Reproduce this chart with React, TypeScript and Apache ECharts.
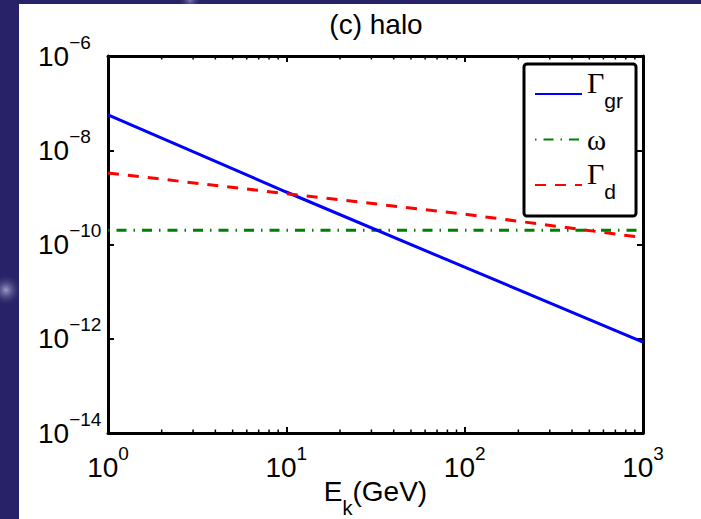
import React, { useEffect, useRef } from "react";
import * as echarts from "echarts";

// ---- data ----
const energy: number[] = [1, 10, 100, 1000];
const gammaGr: number[] = [5.6e-8, 1.3e-9, 3.3e-11, 8.5e-13];
const omega: number[] = [2.0e-10, 2.0e-10, 2.0e-10, 2.0e-10];
const gammaD: number[] = [3.3e-9, 1.2e-9, 4.4e-10, 1.4e-10];

const X_MIN = 1;
const X_MAX = 1000;
const Y_MIN = 1e-14;
const Y_MAX = 1e-6;
const minorXTicks: number[] = [2, 3, 4, 5, 6, 7, 8, 9, 20, 30, 40, 50, 60, 70, 80, 90, 200, 300, 400, 500, 600, 700, 800, 900];

const seriesNames = ["Γgr", "ω", "Γd"];
const legendLabels: Record<string, string> = {
  "Γgr": "{g|Γ}{s|gr}",
  "ω": "{w|ω}",
  "Γd": "{g|Γ}{s|d}",
};

const FONT = "Liberation Sans, Arial, Helvetica, sans-serif";
const SERIF = "Liberation Serif, Times New Roman, serif";

function pow10Label(v: number): string {
  const e = Math.round(Math.log10(v));
  const es = e < 0 ? "\u2212" + String(-e) : String(e);
  return "{b|10}{e|" + es + "}";
}

const labelRich = {
  b: { fontSize: 28, fontFamily: FONT, color: "#000", lineHeight: 30 },
  e: { fontSize: 19, fontFamily: FONT, color: "#000", lineHeight: 30, padding: [0, 0, 28, 0] },
};

export default function App() {
  const ref = useRef<HTMLDivElement>(null);
  useEffect(() => {
    if (!ref.current) return;
    const chart = echarts.init(ref.current, undefined, { renderer: "svg" });
    const toPairs = (ys: number[]) => energy.map((x, i) => [x, ys[i]]);
    const axisLine = { show: true, onZero: false, lineStyle: { color: "#000", width: 3 } };
    const option: any = {
      animation: false,
      backgroundColor: "#282368",
      textStyle: { fontFamily: FONT },
      graphic: {
        elements: [
          {
            type: "circle",
            shape: { cx: 6, cy: 290, r: 16 },
            style: {
              fill: new echarts.graphic.RadialGradient(0.5, 0.5, 0.5, [
                { offset: 0, color: "rgba(200,195,235,0.75)" },
                { offset: 1, color: "rgba(40,35,104,0)" },
              ]),
            },
            z: -20,
            silent: true,
          },
          {
            type: "circle",
            shape: { cx: 190, cy: 0, r: 12 },
            style: {
              fill: new echarts.graphic.RadialGradient(0.5, 0.5, 0.5, [
                { offset: 0, color: "rgba(180,175,225,0.6)" },
                { offset: 1, color: "rgba(40,35,104,0)" },
              ]),
            },
            z: -20,
            silent: true,
          },
          {
            type: "rect",
            shape: { x: 19, y: 4, width: 682, height: 515 },
            style: { fill: "#ffffff" },
            z: -10,
            silent: true,
          },
        ],
      },
      title: {
        text: "(c) halo",
        left: 376,
        top: 10,
        padding: 0,
        textAlign: "center",
        textStyle: { fontFamily: FONT, fontSize: 28, fontWeight: "normal", color: "#000" },
      },
      grid: { left: 108, top: 56, width: 535, height: 377, containLabel: false, outerBoundsMode: "none" },
      legend: {
        orient: "vertical",
        left: 524,
        top: 64,
        padding: [3, 13, 4, 10],
        itemWidth: 47,
        itemHeight: 14,
        itemGap: 4,
        borderColor: "#000",
        borderWidth: 3,
        borderRadius: 3,
        backgroundColor: "#fff",
        itemStyle: { opacity: 0 },
        data: seriesNames,
        formatter: (name: string) => legendLabels[name] || name,
        textStyle: {
          rich: {
            g: { fontFamily: SERIF, fontSize: 30, color: "#000", lineHeight: 30, padding: [0, 0, 24, 0] },
            s: { fontFamily: FONT, fontSize: 21, color: "#000", lineHeight: 30, padding: [12, 0, 0, 0] },
            w: { fontFamily: SERIF, fontSize: 29, color: "#000", lineHeight: 30, padding: [0, 0, 0, 0] },
          },
        },
      },
      xAxis: [
        {
          type: "log",
          logBase: 10,
          min: X_MIN,
          max: X_MAX,
          position: "bottom",
          axisLine,
          axisTick: { show: true, inside: true, length: 6, lineStyle: { color: "#000", width: 2 } },
          splitLine: { show: false },
          axisLabel: { margin: 19, formatter: pow10Label, rich: labelRich },
          name: "{b|E}{s|k}{b|(GeV)}",
          nameLocation: "middle",
          nameGap: 43,
          nameMoveOverlap: false,
          nameTextStyle: {
            rich: {
              b: { fontSize: 28, fontFamily: FONT, color: "#000", lineHeight: 30 },
              s: { fontSize: 20, fontFamily: FONT, color: "#000", lineHeight: 30, padding: [34, 0, 0, 0] },
            },
          },
        },
        {
          type: "log",
          logBase: 10,
          min: X_MIN,
          max: X_MAX,
          position: "top",
          axisLine,
          axisTick: { show: true, inside: true, length: 6, lineStyle: { color: "#000", width: 2 } },
          splitLine: { show: false },
          axisLabel: { show: false },
        },
      ],
      yAxis: [
        {
          type: "log",
          logBase: 10,
          min: Y_MIN,
          max: Y_MAX,
          interval: 2,
          position: "left",
          axisLine,
          axisTick: { show: true, inside: true, length: 6, lineStyle: { color: "#000", width: 2 } },
          splitLine: { show: false },
          axisLabel: { margin: 70, align: "left", formatter: pow10Label, rich: labelRich },
        },
        {
          type: "log",
          logBase: 10,
          min: Y_MIN,
          max: Y_MAX,
          interval: 2,
          position: "right",
          axisLine,
          axisTick: { show: true, inside: true, length: 6, lineStyle: { color: "#000", width: 2 } },
          splitLine: { show: false },
          axisLabel: { show: false },
        },
      ],
      series: [
        {
          name: "Γgr",
          type: "line",
          data: toPairs(gammaGr),
          symbol: "none",
          lineStyle: { color: "#0000ff", width: 3, type: "solid" },
          itemStyle: { color: "#0000ff" },
          z: 4,
        },
        {
          name: "ω",
          type: "line",
          data: toPairs(omega),
          symbol: "none",
          lineStyle: { color: "#008000", width: 3, type: [10, 7, 1.5, 7], dashOffset: 17 },
          itemStyle: { color: "#008000" },
          z: 3,
        },
        {
          name: "Γd",
          type: "line",
          data: toPairs(gammaD),
          symbol: "none",
          lineStyle: { color: "#ff0000", width: 3, type: [11, 9] },
          itemStyle: { color: "#ff0000" },
          z: 5,
        },
        {
          name: "minorTicks",
          type: "custom",
          silent: true,
          clip: false,
          data: minorXTicks.map((x) => [x, Y_MIN]),
          renderItem: (_p: any, api: any) => {
            const x = api.value(0);
            const b = api.coord([x, Y_MIN]);
            const t = api.coord([x, Y_MAX]);
            return {
              type: "group",
              children: [
                { type: "line", shape: { x1: b[0], y1: b[1], x2: b[0], y2: b[1] - 3.5 }, style: { stroke: "#000", lineWidth: 1.5 } },
                { type: "line", shape: { x1: t[0], y1: t[1], x2: t[0], y2: t[1] + 3.5 }, style: { stroke: "#000", lineWidth: 1.5 } },
              ],
            };
          },
        },
      ],
    };
    chart.setOption(option);
    return () => chart.dispose();
  }, []);
  return <div ref={ref} style={{ position: "absolute", left: 0, top: 0, width: 701, height: 519 }} />;
}
